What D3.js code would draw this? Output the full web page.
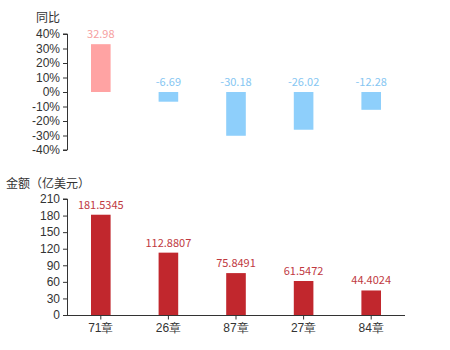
<!DOCTYPE html>
<html>
<head>
<meta charset="utf-8">
<script src="https://cdn.jsdelivr.net/npm/d3@7"></script>
<style>
body { margin: 0; background: #fff; }
svg { display: block; font-family: "Noto Sans CJK SC", "Noto Sans", sans-serif; }
</style>
</head>
<body>
<svg id="chart" width="450" height="350"></svg>
<script>
const categories = ["71章", "26章", "87章", "27章", "84章"];
const yoyValues = [32.98, -6.69, -30.18, -26.02, -12.28];
const amountValues = [181.5345, 112.8807, 75.8491, 61.5472, 44.4024];
const yoyTicks = [-40, -30, -20, -10, 0, 10, 20, 30, 40];
const amountTicks = [0, 30, 60, 90, 120, 150, 180, 210];

const svg = d3.select("#chart");
const left = 67, right = 405;

const x = d3.scaleBand().domain(categories).range([left, right]).paddingInner(0.71).paddingOuter(0.355);

// Top chart
const yTop = d3.scaleLinear().domain([-40, 40]).range([150, 34]);
const gTopAxis = svg.append("g").attr("transform", `translate(${left},0)`)
  .call(d3.axisLeft(yTop).tickValues(yoyTicks).tickFormat(d => d + "%").tickSize(4).tickPadding(3));
gTopAxis.selectAll("path, line").attr("stroke", "#333");
gTopAxis.selectAll("text").attr("fill", "#333").style("font-size", "12px");
gTopAxis.select(".domain").attr("d", `M-4,${yTop(40)}H0.5V${yTop(-40)}H-4`);

svg.append("text").attr("x", 48).attr("y", 22).attr("text-anchor", "middle")
  .attr("fill", "#333").style("font-size", "12px").text("同比");

svg.append("g").selectAll("rect").data(yoyValues).join("rect")
  .attr("x", (d, i) => x(categories[i]))
  .attr("width", x.bandwidth())
  .attr("y", d => yTop(Math.max(0, d)))
  .attr("height", d => Math.abs(yTop(d) - yTop(0)))
  .attr("fill", d => d >= 0 ? "#ffa3a3" : "#8ecffb");

svg.append("g").selectAll("text").data(yoyValues).join("text")
  .attr("x", (d, i) => x(categories[i]) + x.bandwidth() / 2)
  .attr("y", d => yTop(Math.max(0, d)) - 6)
  .attr("text-anchor", "middle")
  .attr("fill", d => d >= 0 ? "#f6a0a0" : "#85c6f2")
  .style("font-size", "11px")
  .text(d => d);

// Bottom chart
const yBot = d3.scaleLinear().domain([0, 210]).range([315, 199]);
const gBotAxis = svg.append("g").attr("transform", `translate(${left},0)`)
  .call(d3.axisLeft(yBot).tickValues(amountTicks).tickSize(4).tickPadding(3));
gBotAxis.selectAll("path, line").attr("stroke", "#333");
gBotAxis.selectAll("text").attr("fill", "#333").style("font-size", "12px");
gBotAxis.select(".domain").attr("d", `M-4,${yBot(210)}H0.5V${yBot(0)}`);

svg.append("text").attr("x", 6).attr("y", 188).attr("text-anchor", "start")
  .attr("fill", "#333").style("font-size", "12px").text("金额（亿美元）");

const gX = svg.append("g").attr("transform", `translate(0,${yBot(0) + 0.5})`)
  .call(d3.axisBottom(x).tickSize(4).tickPadding(4));
gX.selectAll("path, line").attr("stroke", "#333");
gX.select(".domain").attr("d", `M${left},0H${right}`);
gX.selectAll("text").attr("fill", "#333").style("font-size", "12px");

svg.append("g").selectAll("rect").data(amountValues).join("rect")
  .attr("x", (d, i) => x(categories[i]))
  .attr("width", x.bandwidth())
  .attr("y", d => yBot(d))
  .attr("height", d => yBot(0) - yBot(d))
  .attr("fill", "#c1272d");

svg.append("g").selectAll("text").data(amountValues).join("text")
  .attr("x", (d, i) => x(categories[i]) + x.bandwidth() / 2)
  .attr("y", d => yBot(d) - 6)
  .attr("text-anchor", "middle")
  .attr("fill", "#c0393f")
  .style("font-size", "11px")
  .text(d => d);
</script>
</body>
</html>
